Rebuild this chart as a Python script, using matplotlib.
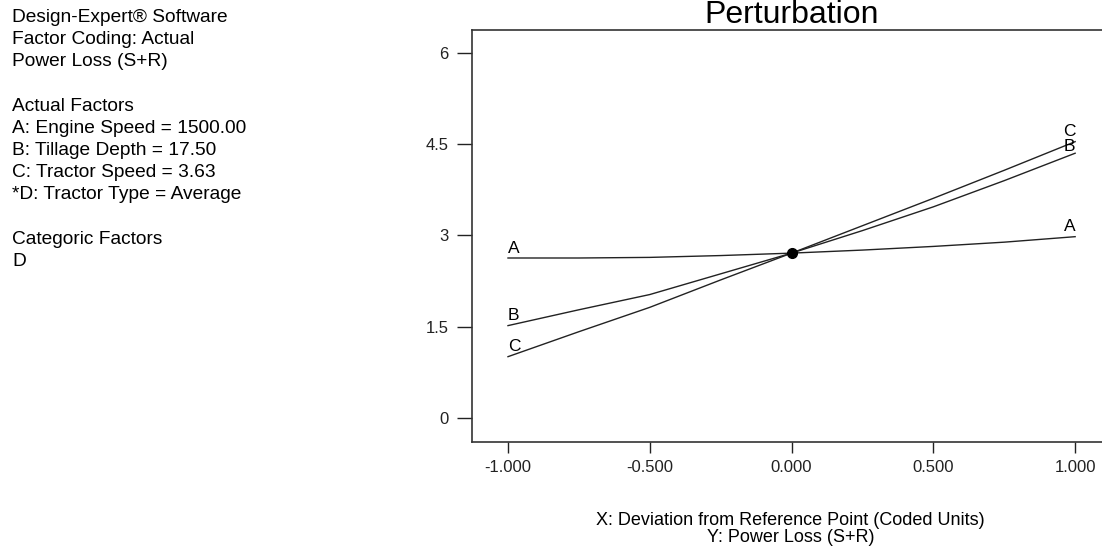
import matplotlib.pyplot as plt

plt.rcParams['font.family'] = ['Liberation Sans', 'DejaVu Sans']

# deviation from reference point (coded units)
x_dev = [-1.0, -0.75, -0.5, -0.25, 0.0, 0.25, 0.5, 0.75, 1.0]

# Power Loss (S+R) for each factor
power_a = [2.63, 2.63, 2.64, 2.67, 2.71, 2.76, 2.82, 2.89, 2.98]
power_b = [1.52, 1.78, 2.03, 2.37, 2.71, 3.08, 3.47, 3.90, 4.35]
power_c = [1.01, 1.42, 1.82, 2.27, 2.71, 3.16, 3.61, 4.07, 4.54]

ref_x = 0.0
ref_y = 2.71

y_ticks = [0, 1.5, 3, 4.5, 6]
y_tick_labels = ["0", "1.5", "3", "4.5", "6"]
x_ticks = [-1.0, -0.5, 0.0, 0.5, 1.0]
x_tick_labels = ["-1.000", "-0.500", "0.000", "0.500", "1.000"]

info_text = ("Design-Expert\u00ae Software\n"
             "Factor Coding: Actual\n"
             "Power Loss (S+R)\n"
             "\n"
             "Actual Factors\n"
             "A: Engine Speed = 1500.00\n"
             "B: Tillage Depth = 17.50\n"
             "C: Tractor Speed = 3.63\n"
             "*D: Tractor Type = Average\n"
             "\n"
             "Categoric Factors\n"
             "D")

fig = plt.figure(figsize=(11.02, 5.49), dpi=100)
ax = fig.add_axes([0.4283, 0.195, 0.58, 0.750])

for vals, name in [(power_a, "A"), (power_b, "B"), (power_c, "C")]:
    ax.plot(x_dev, vals, color='#222222', lw=1.0)
    ax.text(x_dev[0], vals[0] + 0.04, name, ha='left', va='bottom', fontsize=12.5)
    dy = {"A": 0.04, "B": -0.02, "C": 0.05}[name]
    ax.text(x_dev[-1] - 0.02, vals[-1] + dy, name, ha='center', va='bottom', fontsize=12.5)

ax.plot([ref_x], [ref_y], 'o', color='black', markersize=7)

ax.set_xlim(-1.127, 1.127)
ax.set_ylim(-0.39, 6.37)
ax.set_yticks(y_ticks)
ax.set_yticklabels(y_tick_labels)
ax.set_xticks(x_ticks)
ax.set_xticklabels(x_tick_labels)
ax.tick_params(direction='out', width=1, colors='#222222', labelsize=12)
ax.tick_params(axis='y', length=11, pad=6)
ax.tick_params(axis='x', length=8, pad=5)
for s in ax.spines.values():
    s.set_color('#333333')
    s.set_linewidth(1.2)

ax.set_title("Perturbation", fontsize=23, pad=-2)

fig.text(0.7175, 0.006, "X: Deviation from Reference Point (Coded Units)\nY: Power Loss (S+R)",
         ha='center', va='bottom', fontsize=13, linespacing=0.95)

fig.text(0.011, 0.984, info_text, ha='left', va='top', fontsize=13.8, linespacing=1.40)

fig.savefig("out.png", dpi=100)
